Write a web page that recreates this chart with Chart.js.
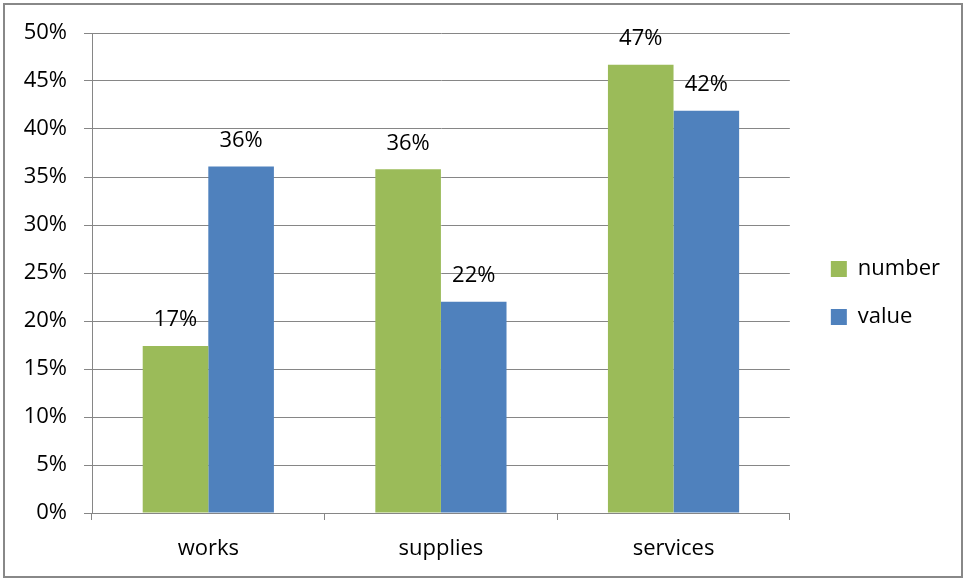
<!DOCTYPE html>
<html>
<head>
<meta charset="utf-8">
<script src="https://cdn.jsdelivr.net/npm/chart.js@4/dist/chart.umd.min.js"></script>
<style>
  html, body { margin: 0; padding: 0; background: #fff; }
  #wrap { width: 964px; height: 579px; position: relative; }
</style>
</head>
<body>
<div id="wrap"><canvas id="shareChart"></canvas></div>
<script>
'use strict';

const CATEGORIES = ['works', 'supplies', 'services'];
const NUMBER_SHARE = [17.4, 35.8, 46.7];
const VALUE_SHARE = [36.1, 22.0, 41.9];
const Y_TICKS = [0, 5, 10, 15, 20, 25, 30, 35, 40, 45, 50];

const FONT = '"Open Sans"';
const GRID = '#868686';

// outer frame like the office chart border
const framePlugin = {
  id: 'frame',
  beforeDraw(chart) {
    const ctx = chart.ctx;
    ctx.save();
    ctx.fillStyle = '#fff';
    ctx.fillRect(0, 0, chart.width, chart.height);
    ctx.strokeStyle = '#888';
    ctx.lineWidth = 2;
    ctx.strokeRect(4, 4, chart.width - 6, chart.height - 6);
    ctx.restore();
  },
};

// value labels above each bar
const barLabels = {
  id: 'barLabels',
  afterDatasetsDraw(chart) {
    const ctx = chart.ctx;
    ctx.save();
    ctx.font = '22px ' + FONT;
    ctx.fillStyle = '#000';
    ctx.textAlign = 'center';
    ctx.textBaseline = 'middle';
    chart.data.datasets.forEach((ds, i) => {
      chart.getDatasetMeta(i).data.forEach((bar, j) => {
        ctx.fillText(Math.round(ds.data[j]) + '%', bar.x, bar.y - 26);
      });
    });
    ctx.restore();
  },
};

new Chart(document.getElementById('shareChart').getContext('2d'), {
  type: 'bar',
  data: {
    labels: CATEGORIES,
    datasets: [
      {
        label: 'number',
        data: NUMBER_SHARE,
        backgroundColor: '#9BBB59',
        categoryPercentage: 0.564,
        barPercentage: 1,
      },
      {
        label: 'value',
        data: VALUE_SHARE,
        backgroundColor: '#4F81BD',
        categoryPercentage: 0.564,
        barPercentage: 1,
      },
    ],
  },
  options: {
    responsive: true,
    maintainAspectRatio: false,
    animation: false,
    layout: { padding: { left: 0, top: 33, right: 14, bottom: 0 } },
    plugins: {
      legend: {
        position: 'right',
        fullSize: false,
        // empty title only pushes the two items down to where they sit in the original
        title: { display: true, text: '', padding: { top: 28, bottom: 0 }, font: { size: 10 } },
        labels: {
          boxWidth: 16,
          boxHeight: 16,
          padding: 26,
          color: '#000',
          font: { family: FONT, size: 22 },
        },
      },
      tooltip: { enabled: false },
    },
    scales: {
      x: {
        grid: { display: true, drawOnChartArea: false, drawTicks: true, tickLength: 7, color: GRID, offset: true },
        border: { color: GRID },
        ticks: { color: '#000', padding: 16, font: { family: FONT, size: 22 } },
        afterFit: s => { s.height = 66; },
      },
      y: {
        min: 0,
        max: 50,
        afterBuildTicks: s => { s.ticks = Y_TICKS.map(v => ({ value: v })); },
        grid: { color: GRID, tickLength: 8 },
        border: { color: GRID },
        ticks: { color: '#000', padding: 17, font: { family: FONT, size: 22 }, callback: v => v + '%' },
        afterFit: s => { s.width = 92; },
      },
      gap: {
        position: 'right',
        display: true,
        grid: { display: false },
        border: { display: false },
        ticks: { display: false },
        afterFit: s => { s.width = 15; },
      },
    },
  },
  plugins: [framePlugin, barLabels],
});
</script>
</body>
</html>
